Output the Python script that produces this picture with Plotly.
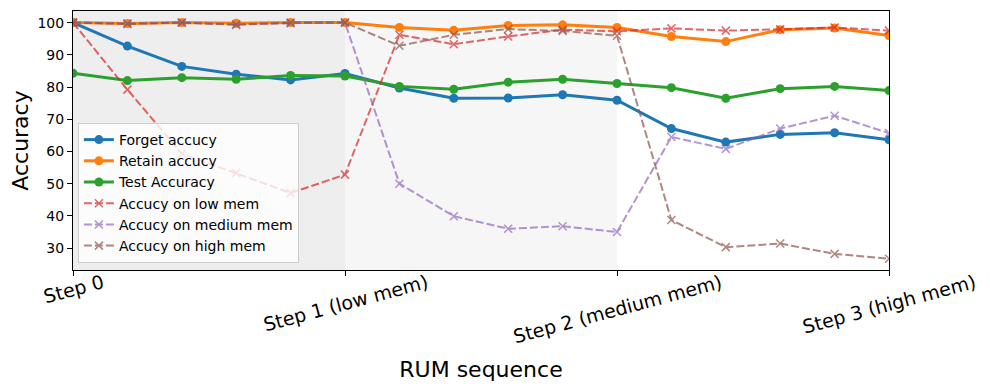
import plotly.graph_objects as go

# x positions: 16 evaluation points over the 3 unlearning steps
x_vals = [0.0, 0.2, 0.4, 0.6, 0.8, 1.0, 1.2, 1.4, 1.6, 1.8, 2.0, 2.2, 2.4, 2.6, 2.8, 3.0]

forget_acc = [100.0, 92.7, 86.4, 84.0, 82.2, 84.2, 79.7, 76.5, 76.6, 77.6, 75.9, 67.1, 62.9, 65.3, 65.8, 63.6]
retain_acc = [100.0, 99.7, 100.0, 99.8, 100.0, 100.0, 98.5, 97.6, 99.1, 99.3, 98.5, 95.7, 94.1, 97.8, 98.3, 96.0]
test_acc = [84.3, 82.0, 82.9, 82.4, 83.6, 83.4, 80.2, 79.3, 81.5, 82.4, 81.1, 79.8, 76.5, 79.5, 80.2, 78.9]
low_mem_acc = [100.0, 79.2, 59.3, 53.3, 47.1, 52.8, 96.2, 93.3, 95.7, 97.8, 97.3, 98.2, 97.5, 97.9, 98.5, 97.5]
medium_mem_acc = [100.0, 99.7, 100.0, 99.5, 99.8, 100.0, 50.0, 39.9, 36.0, 36.8, 35.0, 64.5, 60.8, 67.1, 71.1, 65.7]
high_mem_acc = [100.0, 99.6, 100.0, 99.3, 100.0, 100.0, 92.8, 96.2, 98.0, 97.4, 95.9, 38.7, 30.3, 31.4, 28.2, 26.7]

step_ticks = [0, 1, 2, 3]
step_labels = ["Step 0", "Step 1 (low mem)", "Step 2 (medium mem)", "Step 3 (high mem)"]

FONT = "DejaVu Sans"

fig = go.Figure()

# shaded phases
fig.add_vrect(x0=0, x1=1, fillcolor="#eeeeee", line_width=0, layer="below")
fig.add_vrect(x0=1, x1=2, fillcolor="#f6f6f6", line_width=0, layer="below")

solid = [
    ("Forget accucy", forget_acc, "#1f77b4"),
    ("Retain accucy", retain_acc, "#ff7f0e"),
    ("Test Accuracy", test_acc, "#2ca02c"),
]
for name, ys, col in solid:
    fig.add_trace(go.Scatter(
        x=x_vals, y=ys, name=name, mode="lines+markers",
        line=dict(color=col, width=3),
        marker=dict(symbol="circle", size=9, color=col),
    ))

dashed = [
    ("Accucy on low mem", low_mem_acc, "#d62728"),
    ("Accucy on medium mem", medium_mem_acc, "#9467bd"),
    ("Accucy on high mem", high_mem_acc, "#8c564b"),
]
for name, ys, col in dashed:
    fig.add_trace(go.Scatter(
        x=x_vals, y=ys, name=name, mode="lines+markers", opacity=0.7,
        line=dict(color=col, width=2, dash="8px,3px"),
        marker=dict(symbol="x-thin", size=8, line=dict(color=col, width=1.5)),
    ))

# rotated, centred tick labels (matplotlib style)
for t, lab in zip(step_ticks, step_labels):
    fig.add_annotation(
        x=t, y=0.008, xref="x", yref="paper", text=lab, showarrow=False,
        textangle=-15, xanchor="center", yanchor="top",
        font=dict(family=FONT, size=19, color="black"),
    )

# page body has an 8px margin, so the figure is a bit smaller than the window
fig.update_layout(
    width=974, height=374,
    margin=dict(l=65, r=93, t=3, b=112),
    plot_bgcolor="white", paper_bgcolor="white",
    font=dict(family=FONT, color="black"),
    legend=dict(
        x=0.006, y=0.027, xanchor="left", yanchor="bottom",
        bgcolor="rgba(255,255,255,0.8)", bordercolor="#cccccc", borderwidth=1,
        font=dict(size=14, family=FONT),
    ),
)
fig.update_xaxes(
    range=[0, 3], tickvals=step_ticks, showticklabels=False,
    ticks="outside", ticklen=5, tickcolor="black",
    showline=True, linecolor="black", linewidth=1, mirror=True,
    showgrid=False, zeroline=False, automargin=False,
    title=dict(text="RUM sequence", font=dict(size=22, family=FONT), standoff=88),
)
fig.update_yaxes(
    range=[23.2, 103.6], tickvals=[30, 40, 50, 60, 70, 80, 90, 100],
    ticks="outside", ticklen=5, tickcolor="black",
    tickfont=dict(size=14, family=FONT),
    showline=True, linecolor="black", linewidth=1, mirror=True,
    showgrid=False, zeroline=False, automargin=False,
    title=dict(text="Accuracy", font=dict(size=22, family=FONT), standoff=13),
)

fig.write_html("out.html")
